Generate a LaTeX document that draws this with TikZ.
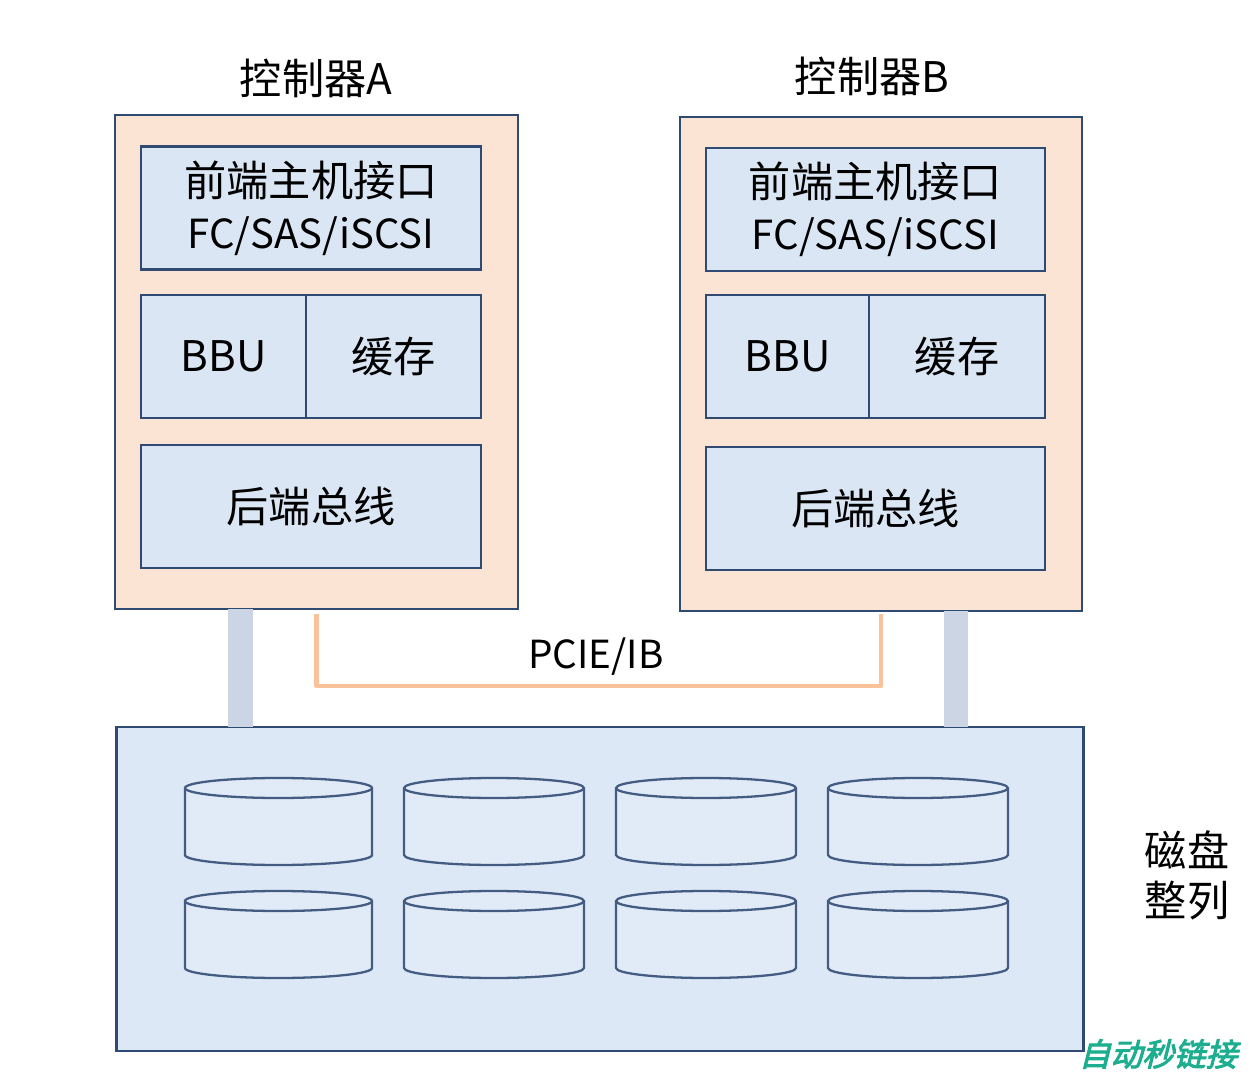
\documentclass[tikz,border=0pt]{standalone}
\usepackage{fontspec}
\setmainfont{Noto Sans CJK SC}
\newfontfamily\wmfont[FakeSlant=0.25,FakeBold=3]{Noto Sans CJK SC}
\usepackage{xcolor}
\usetikzlibrary{calc}
\definecolor{navy}{HTML}{2F4A73}
\definecolor{peach}{HTML}{FCE4D4}
\definecolor{paleblue}{HTML}{DAE6F4}
\definecolor{arrayblue}{HTML}{DDE8F6}
\definecolor{diskblue}{HTML}{E1EBF7}
\definecolor{bargray}{HTML}{CCD5E4}
\definecolor{linkorange}{HTML}{F9C29A}
\definecolor{wmteal}{HTML}{1DAE8F}
\newcommand{\proto}{{\fontsize{11.4}{14.5}\selectfont FC/SAS/iSCSI}}
\tikzset{
  ctrl/.style={draw=navy, fill=peach, line width=0.7pt, inner sep=0pt, outer sep=0pt},
  unit/.style={draw=navy, fill=paleblue, line width=0.7pt, inner sep=0pt, outer sep=0pt, align=center, font=\fontsize{12}{14.8}\selectfont},
  diskarray/.style={draw=navy, fill=arrayblue, line width=0.7pt, inner sep=0pt, outer sep=0pt},
  disk/.style={draw=navy!90, fill=diskblue, line width=0.65pt, line join=round},
  busbar/.style={draw=bargray, line width=0.24cm},
  pcielink/.style={draw=linkorange, line width=1.2pt, line join=round},
  lab/.style={font=\fontsize{12}{14.2}\selectfont, align=center, inner sep=0pt},
}
\begin{document}
\begin{tikzpicture}[x=0.01cm, y=0.01cm]
  \useasboundingbox[fill=white] (0,0) rectangle (1260,-1076);

  % buses from the controllers down to the disk array
  \coordinate (busA) at (240.5,0);
  \coordinate (busB) at (955.5,0);

  % controllers
  \node[ctrl, minimum width=4.03cm, minimum height=4.94cm] (ctrlA) at (316.5,-362) {};
  \node[ctrl, minimum width=4.02cm, minimum height=4.94cm] (ctrlB) at (881,-364) {};
  \node[lab] (titleA) at (316,-78) {控制器A};
  \node[lab] (titleB) at (872,-76) {控制器B};

  % units of controller A
  \node[unit, minimum width=3.40cm, minimum height=1.23cm] (feA) at (311,-208) {前端主机接口\\\proto};
  \node[unit, minimum width=1.65cm, minimum height=1.23cm] (bbuA) at (223.5,-356.5) {BBU};
  \node[unit, minimum width=1.75cm, minimum height=1.23cm] (cacheA) at (393.5,-356.5) {缓存};
  \node[unit, minimum width=3.40cm, minimum height=1.23cm] (beA) at (311,-506.5) {后端总线};

  % units of controller B
  \node[unit, minimum width=3.39cm, minimum height=1.23cm] (feB) at (875.5,-209.5) {前端主机接口\\\proto};
  \node[unit, minimum width=1.63cm, minimum height=1.23cm] (bbuB) at (787.5,-356.5) {BBU};
  \node[unit, minimum width=1.76cm, minimum height=1.23cm] (cacheB) at (957,-356.5) {缓存};
  \node[unit, minimum width=3.39cm, minimum height=1.23cm] (beB) at (875.5,-508.5) {后端总线};

  % disk array
  \node[diskarray, minimum width=9.66cm, minimum height=3.24cm] (array) at (600,-889) {};
  \node[lab] (arrayLabel) at (1187,-875) {磁盘\\整列};

  \foreach \L/\W in {185/187, 404/180, 616/180, 828/180}
    \foreach \T in {778, 891} {
      \draw[disk] (\L,-\T-10) -- (\L,-\T-77) arc (180:360:\W/2 and 10)
        -- (\L+\W,-\T-10) arc (0:180:\W/2 and 10) -- cycle;
      \draw[disk] (\L,-\T-10) arc (180:360:\W/2 and 10);
    }

  % connectors
  \draw[busbar] (ctrlA.south -| busA) -- (array.north -| busA);
  \draw[busbar] (ctrlB.south -| busB) -- (array.north -| busB);

  \coordinate (pcieline) at (600,-686);
  \draw[pcielink] ([yshift=-0.05cm]ctrlA.south) |- (pcieline) -| ([yshift=-0.03cm]ctrlB.south);
  \node[lab, font=\fontsize{11}{13}\selectfont] (pcie) at (596,-657) {PCIE/IB};

  \node[inner sep=0pt, text=wmteal, font=\wmfont\fontsize{9}{10}\selectfont] (mark) at (1158,-1054) {自动秒链接};
\end{tikzpicture}
\end{document}
